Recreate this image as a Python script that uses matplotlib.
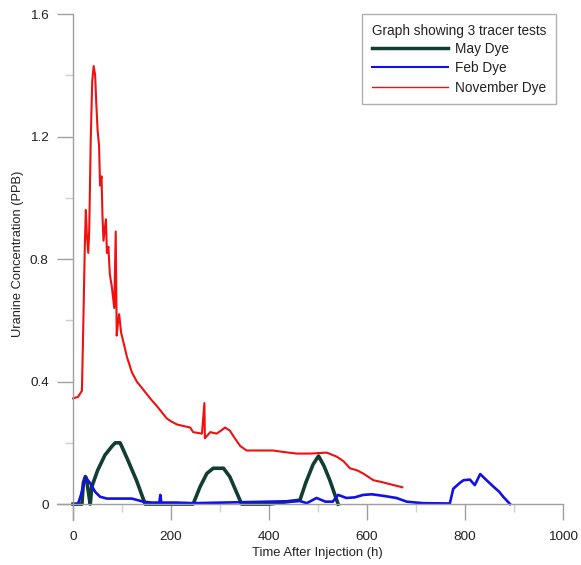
import matplotlib

matplotlib.use("Agg")
import matplotlib.pyplot as plt
from matplotlib.ticker import MultipleLocator

plt.rcParams["font.family"] = ["Liberation Sans", "DejaVu Sans"]

# hours after injection / concentration (PPB)
may_h = [0, 18, 21, 25, 27, 33, 35, 38, 50, 65, 80, 86, 96, 110, 130, 147,
         200, 245, 259, 273, 286, 307, 320, 344, 400, 463, 475, 490, 501, 512,
         524, 541]
may_c = [0, 0, 0.07, 0.09, 0.085, 0.02, 0, 0.056, 0.11, 0.16, 0.19, 0.2, 0.2,
         0.15, 0.075, 0, 0, 0, 0.056, 0.10, 0.117, 0.117, 0.089, 0, 0, 0.013,
         0.07, 0.13, 0.157, 0.125, 0.078, 0]

feb_h = [0, 10, 16, 22, 25, 30, 35, 45, 55, 69, 90, 120, 143, 160, 176, 178,
         180, 210, 245, 463, 477, 497, 515, 530, 541, 558, 575, 592, 610, 633,
         660, 681, 700, 715, 769, 776, 790, 797, 810, 820, 831, 844, 858, 870,
         878, 892]
feb_c = [0, 0, 0.03, 0.07, 0.085, 0.078, 0.068, 0.04, 0.024, 0.018, 0.018,
         0.018, 0.008, 0.005, 0.005, 0.03, 0.005, 0.005, 0.003, 0.01, 0.003,
         0.02, 0.008, 0.008, 0.03, 0.02, 0.022, 0.03, 0.032, 0.027, 0.02, 0.008,
         0.005, 0.003, 0.002, 0.05, 0.07, 0.078, 0.08, 0.062, 0.098, 0.078,
         0.057, 0.04, 0.024, 0]

nov_h = [0, 10, 18, 21, 24, 26, 28, 31, 33, 36, 39, 42, 45, 47, 50, 53, 55, 58,
         60, 62, 67, 69, 72, 75, 79, 84, 87, 89, 92, 94, 98, 104, 110, 115, 120,
         125, 130, 140, 150, 160, 171, 181, 191, 200, 212, 225, 239, 245, 263,
         268, 269, 280, 293, 302, 310, 320, 330, 341, 354, 380, 408, 430, 456,
         484, 518, 538, 552, 565, 580, 592, 613, 630, 647, 672]
nov_c = [0.345, 0.35, 0.37, 0.6, 0.85, 0.96, 0.88, 0.82, 0.9, 1.19, 1.38, 1.43,
         1.4, 1.32, 1.22, 1.17, 1.04, 1.07, 0.94, 0.86, 0.93, 0.82, 0.84, 0.75,
         0.71, 0.64, 0.89, 0.55, 0.6, 0.62, 0.56, 0.52, 0.48, 0.455, 0.43,
         0.415, 0.40, 0.38, 0.36, 0.34, 0.32, 0.30, 0.28, 0.27, 0.26, 0.255,
         0.25, 0.235, 0.23, 0.33, 0.215, 0.235, 0.23, 0.24, 0.25, 0.24, 0.215,
         0.19, 0.175, 0.175, 0.175, 0.17, 0.165, 0.165, 0.168, 0.155, 0.14,
         0.117, 0.11, 0.10, 0.078, 0.072, 0.065, 0.055]

x_ticks = [0, 200, 400, 600, 800, 1000]
y_ticks = [0, 0.4, 0.8, 1.2, 1.6]

MAY = "#123d33"
FEB = "#1010e8"
NOV = "#f01010"
AXIS = "#a0a0a0"

fig = plt.figure(figsize=(5.81, 5.65), dpi=100)
ax = fig.add_axes([0.098, 0.0796, 0.871, 0.8956])

ax.plot(may_h, may_c, color=MAY, lw=2.6, solid_joinstyle="round")
ax.plot(feb_h, feb_c, color=FEB, lw=1.9)
ax.plot(nov_h, nov_c, color=NOV, lw=1.5)

ax.set_xlim(-33, 1000)
ax.set_ylim(-0.052, 1.6)
ax.spines["left"].set_position(("data", 0))
ax.spines["bottom"].set_position(("data", 0))
for side in ("top", "right"):
    ax.spines[side].set_visible(False)
for side in ("left", "bottom"):
    ax.spines[side].set_color(AXIS)
    ax.spines[side].set_linewidth(1.0)

ax.set_xticks(x_ticks)
ax.set_xticklabels([str(v) for v in x_ticks])
ax.set_yticks(y_ticks)
ax.set_yticklabels(["0", "0.4", "0.8", "1.2", "1.6"])
ax.xaxis.set_minor_locator(MultipleLocator(100))
ax.yaxis.set_minor_locator(MultipleLocator(0.2))
ax.tick_params(which="major", direction="out", length=11.5, width=1.0,
               color=AXIS, labelsize=9.7, labelcolor="#222222")
ax.tick_params(axis="x", which="major", pad=8)
ax.tick_params(axis="y", which="major", pad=6)
ax.tick_params(which="minor", direction="out", length=5.5, width=1.0,
               color="#d0d0d0")

fig.text(0.547, 0.021, "Time After Injection (h)", ha="center", va="center",
         fontsize=9.4, color="#222222")
fig.text(0.031, 0.551, "Uranine Concentration (PPB)", ha="center",
         va="center", rotation=90, fontsize=9.3, color="#222222")

leg = ax.legend(["May Dye", "Feb Dye", "November Dye"],
                title="Graph showing 3 tracer tests", loc="upper right",
                bbox_to_anchor=(0.986, 1.0), borderaxespad=0, fancybox=False,
                framealpha=1, edgecolor="#b0b0b0", fontsize=9.8,
                title_fontsize=9.8, handlelength=5.6, handletextpad=0.55,
                labelspacing=0.4, borderpad=0.7)
leg.get_title().set_color("#222222")
for t in leg.get_texts():
    t.set_color("#222222")
for h, w in zip(leg.get_lines(), (2.5, 1.5, 1.0)):
    h.set_linewidth(w)
leg._legend_box.align = "right"
leg._legend_box.sep = 3

fig.savefig("out.png", dpi=100)
